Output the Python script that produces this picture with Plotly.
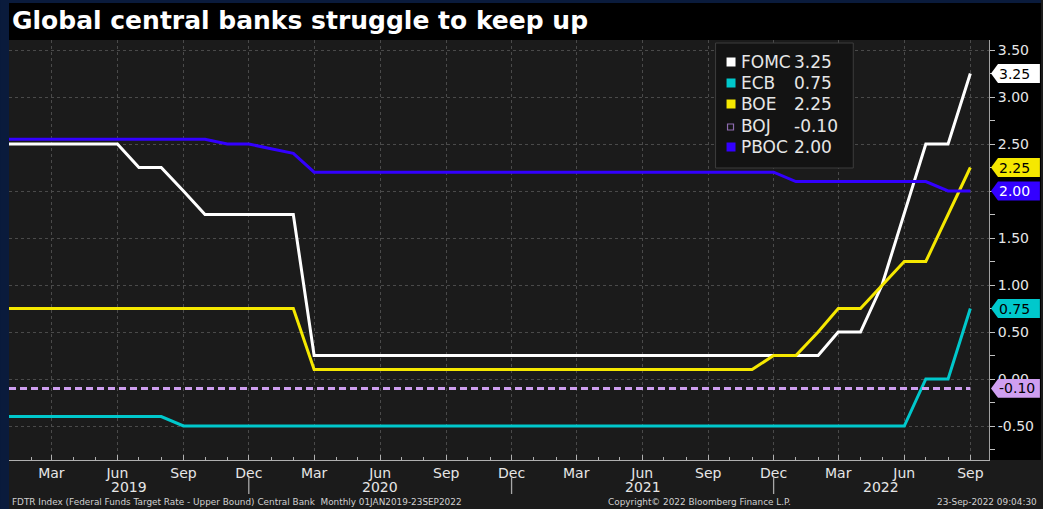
import pandas as pd
import plotly.graph_objects as go

# ---------------- data ----------------
dates = pd.date_range("2019-01-01", "2022-09-01", freq="MS")

fomc = ([2.50] * 6 + [2.25, 2.25, 2.00, 1.75, 1.75, 1.75] +
        [1.75, 1.75] + [0.25] * 10 +
        [0.25] * 12 +
        [0.25, 0.25, 0.50, 0.50, 1.00, 1.75, 2.50, 2.50, 3.25])
ecb = ([-0.40] * 8 + [-0.50] * 4 +
       [-0.50] * 12 +
       [-0.50] * 12 +
       [-0.50] * 6 + [0.00, 0.00, 0.75])
boe = ([0.75] * 12 +
       [0.75, 0.75] + [0.10] * 10 +
       [0.10] * 11 + [0.25] +
       [0.25, 0.50, 0.75, 0.75, 1.00, 1.25, 1.25, 1.75, 2.25])
boj = [-0.10] * 45
pboc = ([2.55] * 10 + [2.50, 2.50] +
        [2.45, 2.40] + [2.20] * 10 +
        [2.20] * 12 +
        [2.10] * 7 + [2.00, 2.00])

names = ["FOMC", "ECB", "BOE", "BOJ", "PBOC"]
series = [fomc, ecb, boe, boj, pboc]
colors = ["#ffffff", "#00c8cc", "#f5e800", "#cf9ff0", "#3300ff"]
tag_text_colors = ["#000000", "#000000", "#000000", "#000000", "#ffffff"]
dashes = ["solid", "solid", "solid", "7px,4px", "solid"]

ytickvals = [3.5, 3.0, 2.5, 2.0, 1.5, 1.0, 0.5, 0.0, -0.5]
yticktext = ["3.50", "3.00", "2.50", "2.00", "1.50", "1.00", "0.50", "0.00", "-0.50"]
years = ["2019", "2020", "2021", "2022"]

title = "Global central banks struggle to keep up"
footer_left = "FDTR Index (Federal Funds Target Rate - Upper Bound) Central Bank  Monthly 01JAN2019-23SEP2022"
footer_mid = "Copyright\u00a9 2022 Bloomberg Finance L.P."
footer_right = "23-Sep-2022 09:04:30"

# ---------------- geometry ----------------
W, H = 1043, 509
L, R, T, B = 9, 991, 40, 460
YR = [-0.8617, 3.6064]
XR = ["2019-01-01", "2022-09-27"]
X0, X1 = pd.Timestamp(XR[0]), pd.Timestamp(XR[1])


def px(x):
    return (x - L) / (R - L)


def py(y):
    return (B - y) / (B - T)


def dfrac(d):
    return (d - X0) / (X1 - X0)


NAVY = "#0a1b3c"
BG = "#1b1b1b"
TXT = "#e6e6e6"
FONT = "DejaVu Sans"

fig = go.Figure()
for n, s, c, d in zip(names, series, colors, dashes):
    fig.add_trace(go.Scatter(x=dates, y=s, name=n, mode="lines",
                             line=dict(color=c, width=3, dash=d),
                             showlegend=False, hoverinfo="skip"))

shapes = []
ann = []

# frame / panels
shapes.append(dict(type="rect", xref="paper", yref="paper", x0=px(0), x1=px(L), y0=py(H), y1=py(0),
                   fillcolor=NAVY, line_width=0, layer="below"))
shapes.append(dict(type="rect", xref="paper", yref="paper", x0=px(0), x1=px(W), y0=py(3), y1=py(0),
                   fillcolor=NAVY, line_width=0, layer="below"))
shapes.append(dict(type="rect", xref="paper", yref="paper", x0=px(L), x1=px(W), y0=py(T), y1=py(3),
                   fillcolor="#000000", line_width=0, layer="below"))
shapes.append(dict(type="rect", xref="paper", yref="paper", x0=px(R), x1=px(W), y0=py(B), y1=py(T),
                   fillcolor="#000000", line_width=0, layer="below"))

ann.append(dict(xref="paper", yref="paper", x=px(10), y=py(21), xanchor="left", yanchor="middle",
                text="<b>" + title + "</b>", showarrow=False,
                font=dict(family=FONT, size=25, color="#ffffff")))

# year separators and labels
dec_dates = [pd.Timestamp(f"{y}-12-01") for y in (2019, 2020, 2021)]
for d in dec_dates:
    f = dfrac(d)
    shapes.append(dict(type="line", xref="paper", yref="paper", x0=f, x1=f, y0=py(477), y1=py(494),
                       line=dict(color="#a8a8a8", width=1.3), layer="above"))
bounds = [X0] + dec_dates + [X1]
for i, yr in enumerate(years):
    mid = bounds[i] + (bounds[i + 1] - bounds[i]) / 2
    ann.append(dict(xref="x", yref="paper", x=mid, y=py(487), xanchor="center", yanchor="middle",
                    text=yr, showarrow=False, font=dict(family=FONT, size=14, color=TXT)))

# footer
ann.append(dict(xref="paper", yref="paper", x=px(10), y=py(502), xanchor="left", yanchor="middle",
                text=footer_left, showarrow=False, font=dict(family=FONT, size=8.9, color="#d0d0d0")))
ann.append(dict(xref="paper", yref="paper", x=px(701), y=py(502), xanchor="center", yanchor="middle",
                text=footer_mid, showarrow=False, font=dict(family=FONT, size=8.9, color="#d0d0d0")))
ann.append(dict(xref="paper", yref="paper", x=px(1041), y=py(502), xanchor="right", yanchor="middle",
                text=footer_right, showarrow=False, font=dict(family=FONT, size=8.9, color="#d0d0d0")))

# legend box
shapes.append(dict(type="rect", xref="paper", yref="paper", x0=px(717), x1=px(855), y0=py(168), y1=py(43),
                   fillcolor="#131313", line=dict(color="#3c3c3c", width=1), layer="above"))
row_y = [62, 83, 104, 126, 147]
for n, s, c, yy in zip(names, series, colors, row_y):
    if n == "BOJ":
        shapes.append(dict(type="rect", xref="paper", yref="paper", x0=px(729), x1=px(735),
                           y0=py(yy + 4), y1=py(yy - 2), fillcolor="rgba(0,0,0,0)",
                           line=dict(color="#8e6cb0", width=1.2), layer="above"))
    else:
        shapes.append(dict(type="rect", xref="paper", yref="paper", x0=px(728), x1=px(737),
                           y0=py(yy + 4.5), y1=py(yy - 4.5), fillcolor=c, line_width=0, layer="above"))
    ann.append(dict(xref="paper", yref="paper", x=px(740), y=py(yy), xanchor="left", yanchor="middle",
                    text=n, showarrow=False, font=dict(family=FONT, size=17, color=TXT)))
    ann.append(dict(xref="paper", yref="paper", x=px(794), y=py(yy), xanchor="left", yanchor="middle",
                    text=f"{s[-1]:.2f}", showarrow=False, font=dict(family=FONT, size=17, color=TXT)))

# value tags on the right axis
h = 0.10
for n, s, c, tc in zip(names, series, colors, tag_text_colors):
    v = s[-1]
    xt, xs, xr = px(993), px(1000), px(1042)
    path = (f"M {xt},{v} L {xs},{v + h} L {xr},{v + h} L {xr},{v - h} L {xs},{v - h} Z")
    shapes.append(dict(type="path", xref="paper", yref="y", path=path, fillcolor=c,
                       line_width=0, layer="above"))
    ann.append(dict(xref="paper", yref="y", x=px(999), y=v, xanchor="left", yanchor="middle",
                    text=f"{v:.2f}", showarrow=False, font=dict(family=FONT, size=14, color=tc)))

fig.update_layout(
    width=W, height=H,
    margin=dict(l=L, r=W - R, t=T, b=H - B, pad=0),
    paper_bgcolor=BG, plot_bgcolor=BG,
    showlegend=False,
    shapes=shapes, annotations=ann,
    xaxis=dict(range=XR, type="date", tickmode="linear", tick0="2019-03-01", dtick="M3",
               tickformat="%b", ticks="inside", ticklen=5, tickcolor="#b0b0b0",
               tickfont=dict(family=FONT, size=14, color=TXT),
               showgrid=True, gridcolor="#4a4a4a", griddash="dot", gridwidth=1,
               showline=True, linecolor="#b0b0b0", linewidth=1,
               minor=dict(dtick="M1", tick0="2019-01-01", ticks="inside", ticklen=3,
                          tickcolor="#b0b0b0", showgrid=False),
               zeroline=False, fixedrange=True),
    yaxis=dict(range=YR, side="right", tickmode="array", tickvals=ytickvals, ticktext=yticktext,
               ticks="outside", ticklen=5, tickcolor="#c0c0c0",
               tickfont=dict(family=FONT, size=14, color=TXT),
               showgrid=True, gridcolor="#4a4a4a", griddash="dot", gridwidth=1,
               showline=True, linecolor="#a0a0a0", linewidth=1,
               minor=dict(dtick=0.25, tick0=0, ticks="outside", ticklen=5,
                          tickcolor="#c0c0c0", showgrid=False),
               zeroline=False, fixedrange=True),
)

fig.write_html("out.html", config={"displayModeBar": False},
               post_script="document.body.style.margin='0';document.body.style.overflow='hidden';")
